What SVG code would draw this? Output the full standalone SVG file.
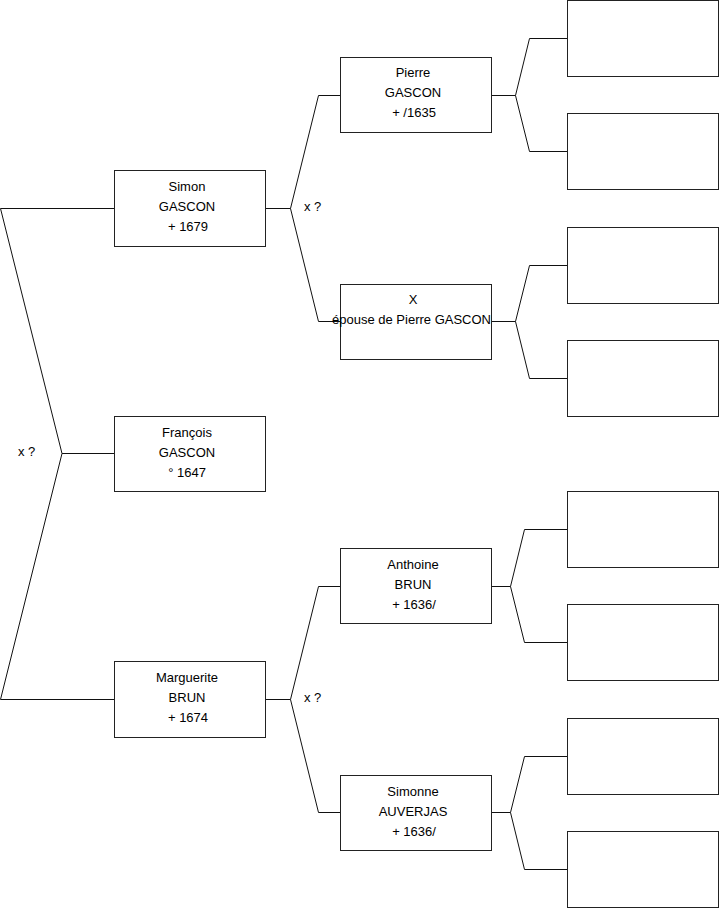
<svg xmlns="http://www.w3.org/2000/svg" width="719" height="908" viewBox="0 0 719 908">
<style>
.box{fill:#fff;stroke:#222;stroke-width:1}
.c{fill:none;stroke:#111;stroke-width:1}
text{font-family:"Liberation Sans",Arial,sans-serif;font-size:13px;fill:#000}
.m{text-anchor:middle}
</style>
<rect width="719" height="908" fill="#fff"/>
<g id="connectors">
<polyline class="c" points="114,208.5 0.5,208.5 62,453.5 0.5,699.5 114,699.5"/>
<line class="c" x1="62" y1="453.5" x2="114" y2="453.5"/>
<polyline class="c" points="341,95.5 318.5,95.5 290.5,208.5 318.5,321.5 341,321.5"/>
<line class="c" x1="265" y1="208.5" x2="290.5" y2="208.5"/>
<polyline class="c" points="341,586.5 318.5,586.5 290.5,699.5 318.5,812.5 341,812.5"/>
<line class="c" x1="265" y1="699.5" x2="290.5" y2="699.5"/>
<polyline class="c" points="567,38.5 529.5,38.5 515.5,95.5 529.5,151.5 567,151.5"/>
<line class="c" x1="492" y1="95.5" x2="515.5" y2="95.5"/>
<polyline class="c" points="567,265.5 529.5,265.5 515.5,321.5 529.5,378.5 567,378.5"/>
<line class="c" x1="492" y1="321.5" x2="515.5" y2="321.5"/>
<polyline class="c" points="567,529.5 524.5,529.5 510.5,586.5 524.5,642.5 567,642.5"/>
<line class="c" x1="492" y1="586.5" x2="510.5" y2="586.5"/>
<polyline class="c" points="567,756.5 524.5,756.5 510.5,812.5 524.5,869.5 567,869.5"/>
<line class="c" x1="492" y1="812.5" x2="510.5" y2="812.5"/>
<text x="18" y="456">x ?</text>
<text x="304" y="211">x ?</text>
<text x="304" y="702">x ?</text>
</g>
<g id="simon"><rect class="box" x="114.5" y="170.5" width="151" height="76"/>
<text class="m" x="187" y="191">Simon</text><text class="m" x="187" y="211">GASCON</text><text class="m" x="188" y="231">+ 1679</text></g>
<g id="francois"><rect class="box" x="114.5" y="416.5" width="151" height="75"/>
<text class="m" x="187" y="437">François</text><text class="m" x="187" y="457">GASCON</text><text class="m" x="187" y="477">° 1647</text></g>
<g id="marguerite"><rect class="box" x="114.5" y="661.5" width="151" height="76"/>
<text class="m" x="187" y="682">Marguerite</text><text class="m" x="187" y="702">BRUN</text><text class="m" x="188" y="722">+ 1674</text></g>
<g id="pierre"><rect class="box" x="340.5" y="57.5" width="151" height="75"/>
<text class="m" x="413" y="77">Pierre</text><text class="m" x="413" y="97">GASCON</text><text class="m" x="414" y="117">+ /1635</text></g>
<g id="epouse"><rect class="box" x="340.5" y="284.5" width="151" height="75"/>
<text class="m" x="413" y="304">X</text><text class="m" x="411.5" y="324">épouse de Pierre GASCON</text></g>
<g id="anthoine"><rect class="box" x="340.5" y="548.5" width="151" height="75"/>
<text class="m" x="413" y="569">Anthoine</text><text class="m" x="413" y="589">BRUN</text><text class="m" x="414" y="609">+ 1636/</text></g>
<g id="simonne"><rect class="box" x="340.5" y="775.5" width="151" height="75"/>
<text class="m" x="413" y="796">Simonne</text><text class="m" x="413" y="816">AUVERJAS</text><text class="m" x="414" y="836">+ 1636/</text></g>
<g id="r1"><rect class="box" x="567.5" y="0.5" width="151" height="76"/></g>
<g id="r2"><rect class="box" x="567.5" y="113.5" width="151" height="76"/></g>
<g id="r3"><rect class="box" x="567.5" y="227.5" width="151" height="76"/></g>
<g id="r4"><rect class="box" x="567.5" y="340.5" width="151" height="76"/></g>
<g id="r5"><rect class="box" x="567.5" y="491.5" width="151" height="76"/></g>
<g id="r6"><rect class="box" x="567.5" y="604.5" width="151" height="76"/></g>
<g id="r7"><rect class="box" x="567.5" y="718.5" width="151" height="76"/></g>
<g id="r8"><rect class="box" x="567.5" y="831.5" width="151" height="76"/></g>
</svg>
